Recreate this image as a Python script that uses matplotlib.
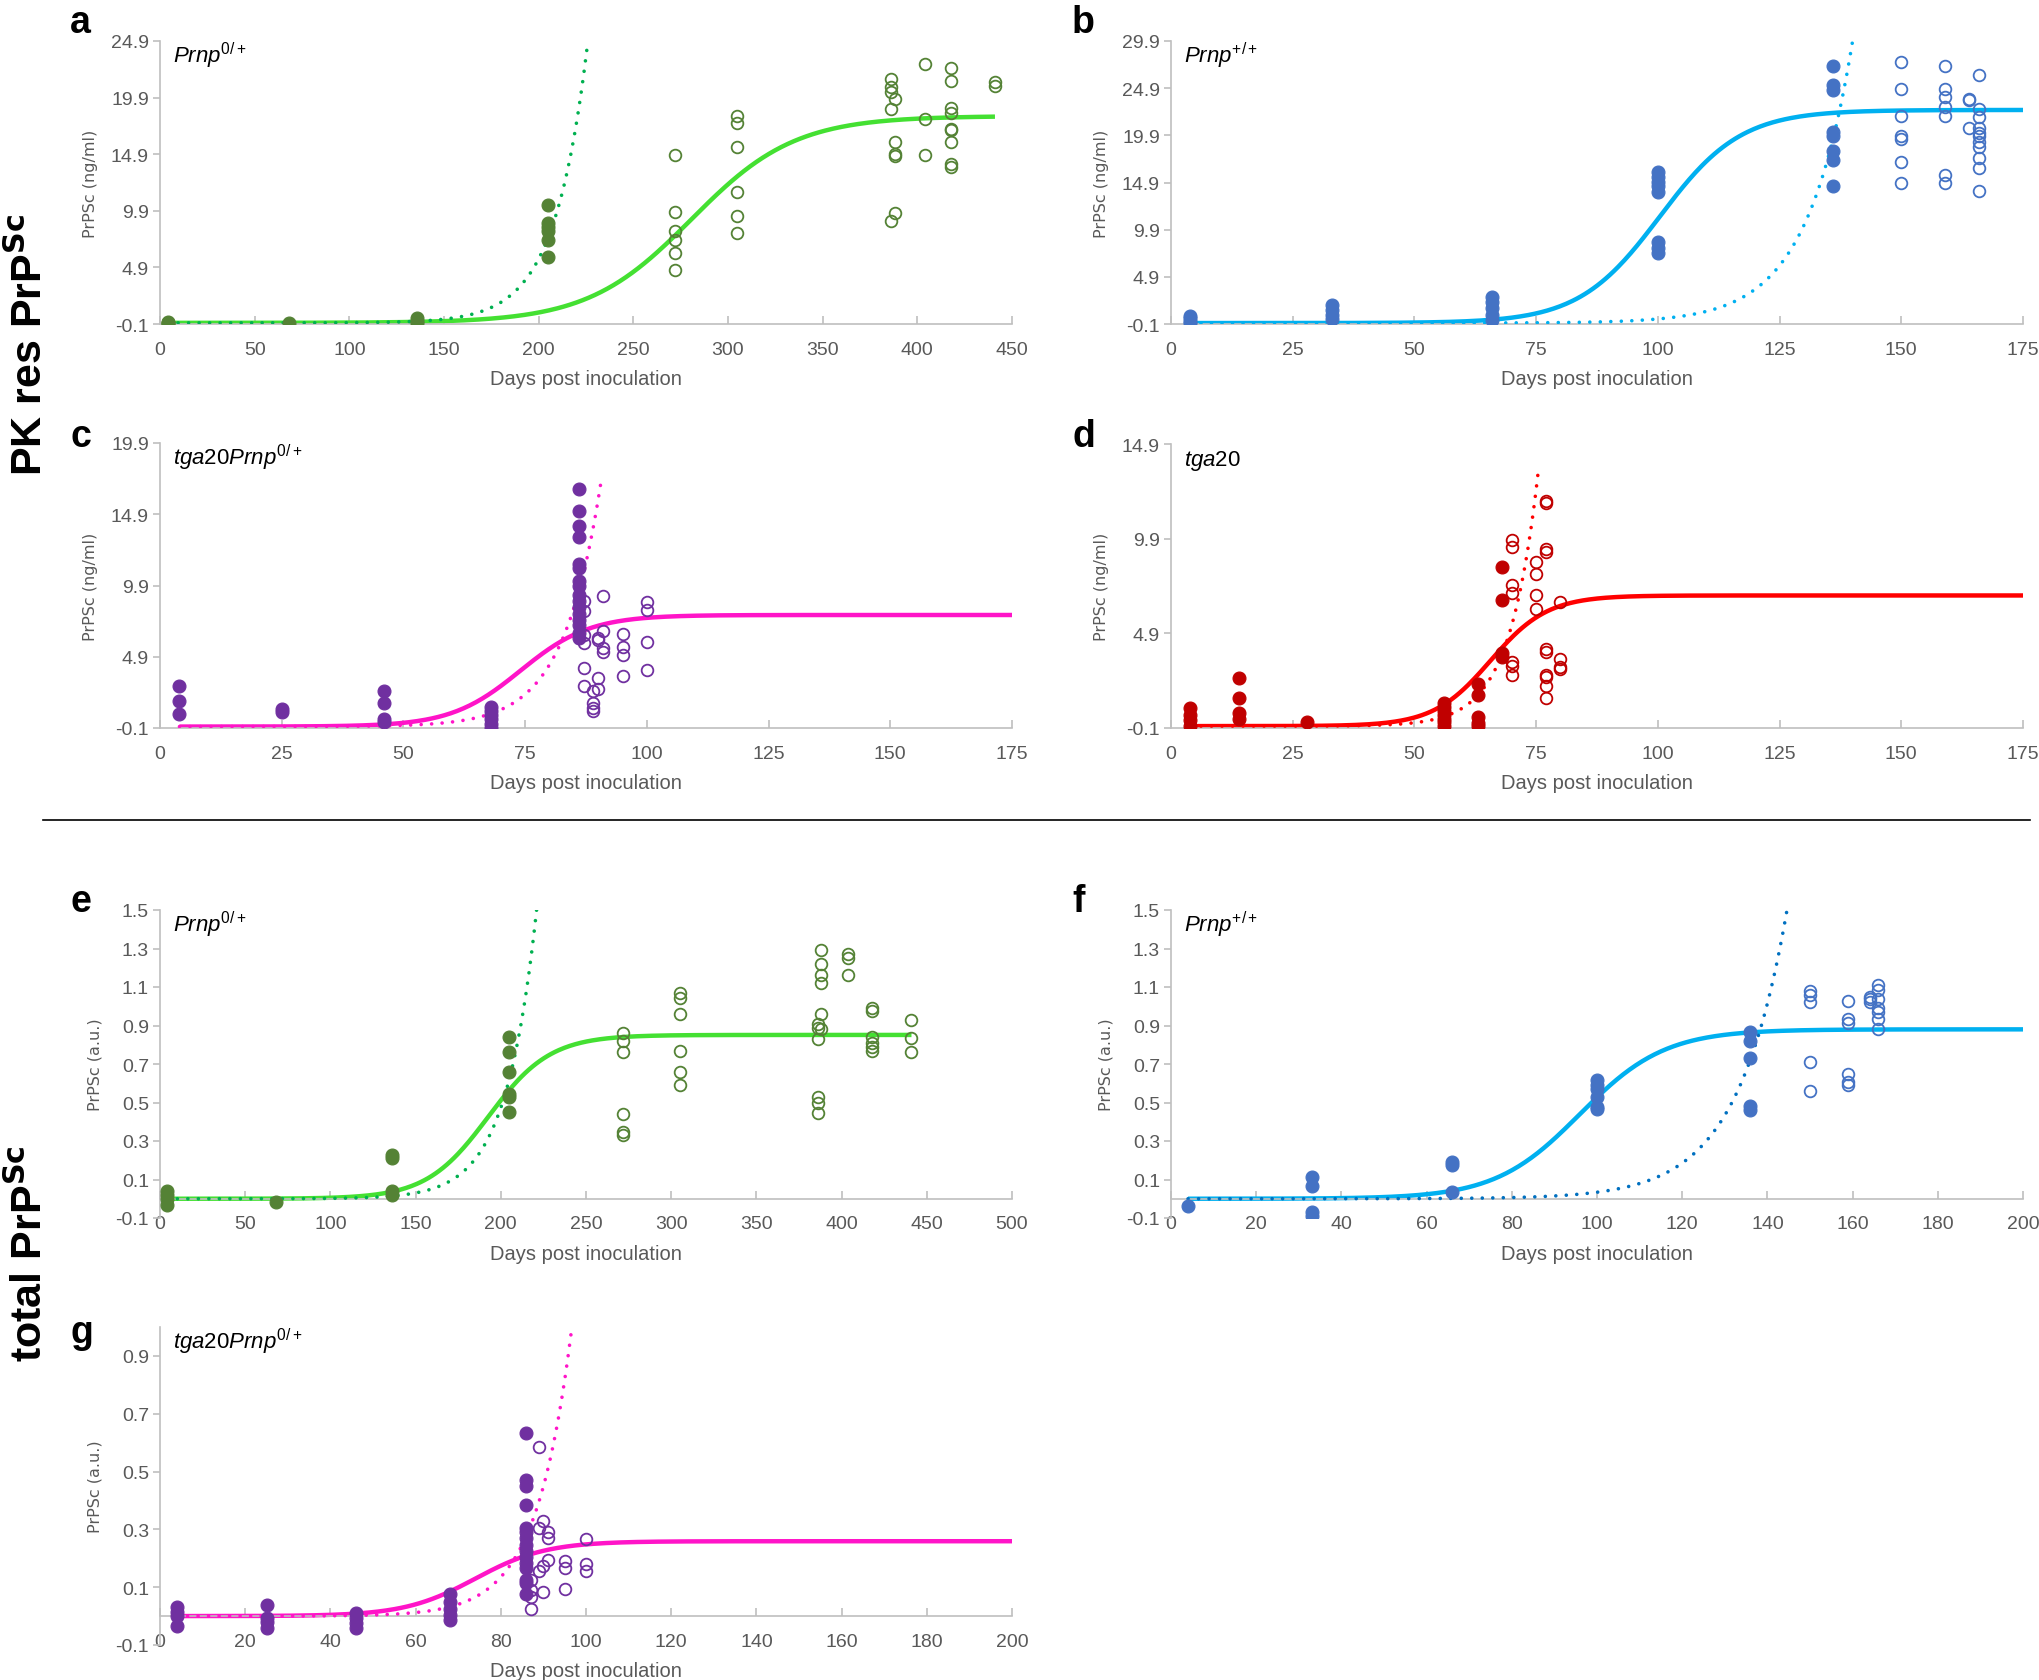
"""
Prion accumulation panels (PK-resistant and total PrPSc) vs days post inoculation.
Seven panels, logistic fit (solid) + first-phase exponential fit (dotted).
"""
import matplotlib
matplotlib.use("Agg")
import matplotlib.pyplot as plt
from matplotlib.lines import Line2D
import numpy as np

plt.rcParams["mathtext.fontset"] = "custom"
plt.rcParams["mathtext.it"] = "Liberation Sans:italic"
plt.rcParams["mathtext.rm"] = "Liberation Sans"
plt.rcParams["mathtext.bf"] = "Liberation Sans Narrow:bold"

NARROW = ["Liberation Sans Narrow", "Liberation Sans", "DejaVu Sans"]

# ---------- data ----------
# a: PK res, Prnp0/+
a_fill_days = [4, 68, 136, 205]
a_fill_vals = [[0.0, 0.1, -0.05], [0.0], [0.0, 0.2, 0.4],
               [10.4, 8.8, 8.45, 8.15, 7.35, 5.85]]
a_open_days = [272, 305, 386, 388, 404, 418, 441]
a_open_vals = [[14.8, 9.8, 8.15, 7.35, 6.15, 4.7],
               [18.3, 17.7, 15.5, 11.6, 9.4, 7.95],
               [21.5, 20.8, 20.4, 18.9, 9.0],
               [19.8, 16.0, 14.9, 14.7, 9.7],
               [22.9, 18.0, 14.8],
               [22.5, 21.4, 19.0, 18.5, 17.1, 17.0, 16.0, 14.05, 13.75],
               [21.3, 20.9]]
a_fit = [18.27, 280.6, 0.0365]      # plateau, midpoint, rate
a_exp = [226, 24.9, 0.057]          # end day, end value, rate

# b: PK res, Prnp+/+
b_fill_days = [4, 33, 66, 100, 136]
b_fill_vals = [[0.0, 0.25, 0.5, 0.75], [0.4, 0.9, 1.4, 1.9],
               [0.3, 0.9, 1.6, 2.2, 2.8],
               [16.0, 15.5, 15.0, 14.5, 13.9, 8.6, 8.0, 7.4],
               [27.2, 25.2, 24.7, 20.3, 19.8, 18.2, 17.3, 14.5]]
b_open_days = [150, 159, 164, 166]
b_open_vals = [[27.7, 24.8, 21.9, 19.8, 19.5, 17.1, 14.9],
               [27.2, 24.8, 24.0, 22.9, 21.95, 15.7, 14.9],
               [23.8, 23.6, 20.65],
               [26.3, 22.7, 21.8, 20.65, 20.1, 19.8, 19.2, 18.7, 17.5, 16.4, 14.0]]
b_fit = [22.59, 100.4, 0.12]
b_exp = [140, 29.9, 0.106]

# c: PK res, tga20Prnp0/+
c_fill_days = [4, 25, 46, 68, 86]
c_fill_vals = [[2.85, 1.8, 0.85], [1.0, 1.2], [2.5, 1.65, 0.55, 0.35],
               [-0.1, 0.2, 0.5, 0.8, 1.1, 1.4],
               [16.7, 15.1, 14.1, 13.3, 11.4, 11.1, 10.25, 9.9, 9.2, 8.8,
                8.4, 7.9, 7.5, 7.1, 6.6, 6.25]]
c_open_days = [87, 89, 90, 91, 95, 100]
c_open_vals = [[8.8, 8.1, 6.4, 5.9, 4.1, 2.85], [2.5, 1.65, 1.3, 1.1],
               [6.25, 6.1, 3.4, 2.65], [9.15, 6.7, 5.5, 5.2],
               [6.5, 5.55, 5.0, 3.55], [8.75, 8.2, 5.95, 4.0]]
c_fit = [7.83, 74.0, 0.14]
c_exp = [90.5, 17.0, 0.13]

# d: PK res, tga20
d_fill_days = [4, 14, 28, 56, 63, 68]
d_fill_vals = [[0.0, 0.3, 0.6, 0.95], [2.55, 1.5, 0.7, 0.35], [0.2],
               [0.0, 0.2, 0.4, 0.6, 0.8, 1.0, 1.2],
               [2.25, 1.65, 0.5, 0.15, 0.0], [8.4, 6.65, 3.85, 3.65]]
d_open_days = [70, 75, 77, 80]
d_open_vals = [[9.85, 9.45, 7.45, 7.05, 3.4, 3.15, 2.7],
               [8.65, 8.05, 6.9, 6.2],
               [11.9, 11.8, 9.35, 9.2, 4.05, 3.9, 2.7, 2.6, 2.1, 1.5],
               [6.55, 3.55, 3.1, 3.0]]
d_fit = [6.9, 65.6, 0.17]
d_exp = [75.5, 13.6, 0.17]

# e: total, Prnp0/+
e_fill_days = [4, 68, 136, 205]
e_fill_vals = [[-0.03, 0.0, 0.02, 0.04], [-0.015], [0.225, 0.21, 0.04, 0.02],
               [0.84, 0.76, 0.66, 0.545, 0.53, 0.45]]
e_open_days = [272, 305, 386, 388, 404, 418, 441]
e_open_vals = [[0.86, 0.82, 0.76, 0.44, 0.345, 0.33],
               [1.07, 1.045, 0.96, 0.77, 0.66, 0.59],
               [0.91, 0.885, 0.83, 0.53, 0.5, 0.445],
               [1.29, 1.22, 1.16, 1.12, 0.96, 0.88],
               [1.27, 1.25, 1.16],
               [0.99, 0.975, 0.84, 0.81, 0.79, 0.765],
               [0.93, 0.835, 0.76]]
e_fit = [0.851, 192.6, 0.055]
e_exp = [221, 1.5, 0.055]

# f: total, Prnp+/+
f_fill_days = [4, 33, 66, 100, 136]
f_fill_vals = [[-0.04], [0.115, 0.065, -0.07, -0.09], [0.19, 0.175, 0.035],
               [0.615, 0.59, 0.57, 0.53, 0.475, 0.465],
               [0.865, 0.82, 0.73, 0.48, 0.46]]
f_open_days = [150, 159, 164, 166]
f_open_vals = [[1.08, 1.06, 1.02, 0.71, 0.56],
               [1.025, 0.935, 0.915, 0.65, 0.605, 0.59],
               [1.05, 1.04, 1.02],
               [1.11, 1.085, 1.04, 0.99, 0.97, 0.935, 0.88]]
f_fit = [0.88, 96.0, 0.10]
f_exp = [144.6, 1.5, 0.085]

# g: total, tga20Prnp0/+
g_fill_days = [4, 25, 46, 68, 86]
g_fill_vals = [[0.03, 0.015, 0.0, -0.035], [0.04, -0.005, -0.02, -0.04],
               [0.01, -0.005, -0.025, -0.04], [0.075, 0.05, 0.025, 0.005, -0.015],
               [0.635, 0.47, 0.45, 0.385, 0.305, 0.29, 0.27, 0.245, 0.225,
                0.205, 0.185, 0.165, 0.125, 0.115, 0.075]]
g_open_days = [87, 89, 90, 91, 95, 100]
g_open_vals = [[0.125, 0.09, 0.065, 0.025], [0.585, 0.305, 0.155],
               [0.33, 0.175, 0.085], [0.29, 0.27, 0.195],
               [0.19, 0.165, 0.095], [0.265, 0.18, 0.155]]
g_fit = [0.259, 74.0, 0.12]
g_exp = [96.6, 0.99, 0.12]

ng_ticks_25 = [-0.1, 4.9, 9.9, 14.9, 19.9, 24.9]
ng_ticks_30 = [-0.1, 4.9, 9.9, 14.9, 19.9, 24.9, 29.9]
ng_ticks_20 = [-0.1, 4.9, 9.9, 14.9, 19.9]
ng_ticks_15 = [-0.1, 4.9, 9.9, 14.9]
au_ticks_15 = [-0.1, 0.1, 0.3, 0.5, 0.7, 0.9, 1.1, 1.3, 1.5]
au_ticks_09 = [-0.1, 0.1, 0.3, 0.5, 0.7, 0.9]

# ---------- colours ----------
GREEN_DK, GREEN_LN, GREEN_DOT = "#548235", "#44e032", "#00b050"
BLUE_MK, BLUE_LN, BLUE_DOT = "#4472c4", "#00b0f0", "#0070c0"
PURPLE, MAGENTA = "#7030a0", "#ff14c8"
DKRED, RED = "#c00000", "#ff0000"
AXIS = "#bfbfbf"
TXT = "#595959"

W, H = 2040, 1681
fig = plt.figure(figsize=(W / 100, H / 100), dpi=100)


def rect(l, t, r, b):
    return [l / W, 1 - b / H, (r - l) / W, (b - t) / H]


def flat(days, vals):
    xs, ys = [], []
    for d, vs in zip(days, vals):
        xs += [d] * len(vs)
        ys += list(vs)
    return xs, ys


def panel(pos, fill_days, fill_vals, open_days, open_vals, mk, fit, fit_end,
          lncol, expfit, dotcol, xmax, xstep, ylim, yticks, ylabel, gene,
          zero_axis=False):
    ax = fig.add_axes(rect(*pos))
    x = np.linspace(4, fit_end, 400)
    L, x0, k = fit
    ax.plot(x, L / (1 + np.exp(-k * (x - x0))), color=lncol, lw=3.2, zorder=2,
            solid_capstyle="butt")
    xe, ye, ke = expfit
    xd = np.linspace(4, xe, 400)
    ax.plot(xd, ye * np.exp(ke * (xd - xe)), color=dotcol, lw=2.6,
            ls=(0, (0.01, 2.9)), dash_capstyle="round", zorder=3)
    fx, fy = flat(fill_days, fill_vals)
    ax.plot(fx, fy, "o", ms=9.3, mfc=mk, mec=mk, mew=0.8, zorder=4)
    ox, oy = flat(open_days, open_vals)
    ax.plot(ox, oy, "o", ms=8.4, mfc="none", mec=mk, mew=1.3, zorder=4)

    ax.set_xlim(0, xmax)
    ax.set_ylim(*ylim)
    xt = np.arange(0, xmax + 1, xstep)
    ax.set_xticks(xt, labels=[f"{int(v)}" for v in xt])
    ax.set_yticks(yticks, labels=[f"{v:g}" for v in yticks])
    for s in ("top", "right"):
        ax.spines[s].set_visible(False)
    for s in ("left", "bottom"):
        ax.spines[s].set_color(AXIS)
        ax.spines[s].set_linewidth(1.2)
    if zero_axis:
        ax.spines["bottom"].set_position(("data", 0))
    ax.tick_params(axis="x", direction="in", length=6, width=1.2, color=AXIS,
                   labelcolor=TXT, labelsize=14, pad=12)
    ax.tick_params(axis="y", direction="out", length=5, width=1.2, color=AXIS,
                   labelcolor=TXT, labelsize=14, pad=3)
    for lab in ax.get_xticklabels() + ax.get_yticklabels():
        lab.set_family(NARROW)
    ax.set_xlabel("Days post inoculation", family=NARROW, fontsize=14.5,
                  color=TXT, labelpad=8)
    ax.set_ylabel(ylabel, family="DejaVu Sans", fontsize=11.5, color=TXT,
                  labelpad=9)
    ax.annotate(gene, xy=(0, 1), xycoords="axes fraction", xytext=(13, -21),
                textcoords="offset pixels", fontsize=16, va="baseline",
                ha="left", color="black")
    ax.patch.set_alpha(0)
    return ax


NG = "PrPSc (ng/ml)"
AU = "PrPSc (a.u.)"
G0 = r"$\mathit{Prnp}^{\mathit{0/+}}$"
GP = r"$\mathit{Prnp}^{\mathit{+/+}}$"
GT = r"$\mathit{tga20Prnp}^{\mathit{0/+}}$"
GT20 = r"$\mathit{tga20}$"

panel((160, 42, 1012, 325), a_fill_days, a_fill_vals, a_open_days, a_open_vals,
      GREEN_DK, a_fit, 441, GREEN_LN, a_exp, GREEN_DOT, 450, 50,
      (-0.1, 24.9), ng_ticks_25, NG, G0)
panel((1171, 42, 2023, 325), b_fill_days, b_fill_vals, b_open_days, b_open_vals,
      BLUE_MK, b_fit, 175, BLUE_LN, b_exp, BLUE_LN, 175, 25,
      (-0.1, 29.9), ng_ticks_30, NG, GP)
panel((160, 444, 1012, 729), c_fill_days, c_fill_vals, c_open_days, c_open_vals,
      PURPLE, c_fit, 175, MAGENTA, c_exp, MAGENTA, 175, 25,
      (-0.1, 19.9), ng_ticks_20, NG, GT)
panel((1171, 445, 2023, 729), d_fill_days, d_fill_vals, d_open_days, d_open_vals,
      DKRED, d_fit, 175, RED, d_exp, RED, 175, 25,
      (-0.1, 14.9), ng_ticks_15, NG, GT20)
panel((160, 911, 1012, 1219), e_fill_days, e_fill_vals, e_open_days, e_open_vals,
      GREEN_DK, e_fit, 441, GREEN_LN, e_exp, GREEN_DOT, 500, 50,
      (-0.1, 1.5), au_ticks_15, AU, G0, zero_axis=True)
panel((1171, 911, 2023, 1219), f_fill_days, f_fill_vals, f_open_days, f_open_vals,
      BLUE_MK, f_fit, 200, BLUE_LN, f_exp, BLUE_DOT, 200, 20,
      (-0.1, 1.5), au_ticks_15, AU, GP, zero_axis=True)
panel((160, 1328, 1012, 1646), g_fill_days, g_fill_vals, g_open_days, g_open_vals,
      PURPLE, g_fit, 200, MAGENTA, g_exp, MAGENTA, 200, 20,
      (-0.1, 1.0), au_ticks_09, AU, GT, zero_axis=True)

# ---------- panel letters, row labels, separator ----------
for letter, (px, py) in {"a": (70, 33), "b": (1072, 33), "c": (70, 447),
                         "d": (1072, 447), "e": (70, 912), "f": (1072, 912),
                         "g": (70, 1343)}.items():
    fig.text(px / W, 1 - py / H, letter, fontsize=27, fontweight="bold",
             family="Liberation Sans", ha="left", va="baseline")

for lab, py in (("PK res PrP$^{\\mathbf{Sc}}$", 345), ("total PrP$^{\\mathbf{Sc}}$", 1254)):
    fig.text(30 / W, 1 - py / H, lab, rotation=90, fontsize=31, fontweight="bold",
             family=NARROW, ha="center", va="center")

fig.add_artist(Line2D([43 / W, 2030 / W], [1 - 821 / H] * 2, color="black", lw=1.2))

fig.savefig("out.png", dpi=100)
